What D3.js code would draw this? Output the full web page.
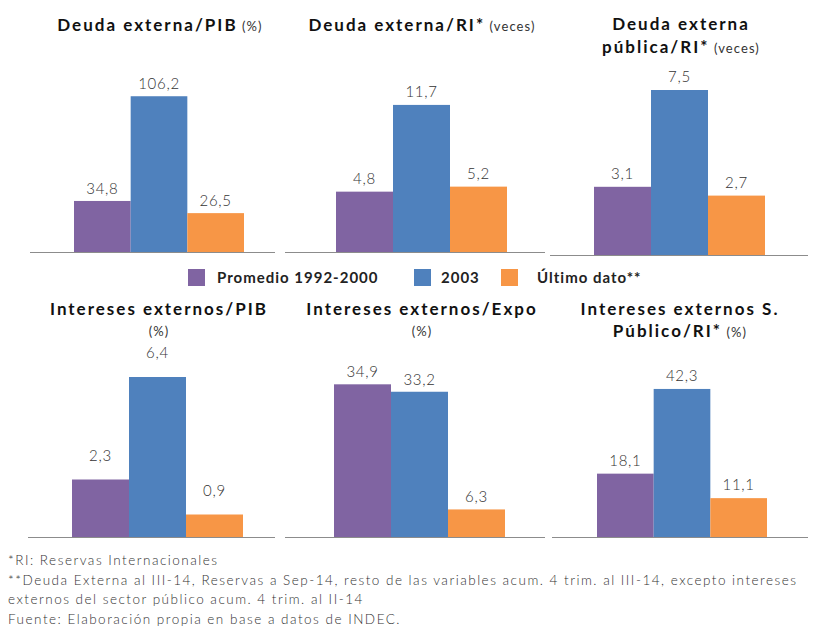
<!DOCTYPE html>
<html>
<head>
<meta charset="utf-8">
<script src="https://cdn.jsdelivr.net/npm/d3@7"></script>
<style>
  html, body { margin: 0; padding: 0; background: #fff; }
  svg { display: block; font-family: Lato, "Open Sans", sans-serif; }
</style>
</head>
<body>
<svg id="chart" width="813" height="632"></svg>
<script>
// Series and categories
const series = ["Promedio 1992-2000", "2003", "Último dato**"];
const seriesColors = ["#8064A2", "#4F81BD", "#F79646"];

// Indicator titles: each line is [bold text, small unit text]
const titles = [
  [["Deuda externa/PIB", " (%)"]],
  [["Deuda externa/RI*", " (veces)"]],
  [["Deuda externa", ""], ["pública/RI*", " (veces)"]],
  [["Intereses externos/PIB", ""], ["", "(%)"]],
  [["Intereses externos/Expo", ""], ["", "(%)"]],
  [["Intereses externos S.", ""], ["Público/RI*", " (%)"]]
];

// Values per indicator: [Promedio 1992-2000, 2003, Último dato]
const deudaPIB = [34.8, 106.2, 26.5];
const deudaRI = [4.8, 11.7, 5.2];
const deudaPublicaRI = [3.1, 7.5, 2.7];
const interesesPIB = [2.3, 6.4, 0.9];
const interesesExpo = [34.9, 33.2, 6.3];
const interesesPublicoRI = [18.1, 42.3, 11.1];
const panelValues = [deudaPIB, deudaRI, deudaPublicaRI, interesesPIB, interesesExpo, interesesPublicoRI];

// Value-axis maxima per indicator
const axisMax = [120, 14, 8, 7, 40, 50];

const footnotes = [
  "*RI: Reservas Internacionales",
  "**Deuda Externa al III-14, Reservas a Sep-14, resto de las variables acum. 4 trim. al III-14, excepto intereses",
  "externos del sector público acum. 4 trim. al II-14",
  "Fuente: Elaboración propia en base a datos de INDEC."
];

// Panel geometry
const layout = [
  { ax0: 30,  ax1: 275, bx0: 74,  bx1: 244, base: 252, h: 176, tx: 160, ty: [31],       gap: 7 },
  { ax0: 285, ax1: 545, bx0: 336, bx1: 507, base: 252, h: 176, tx: 422, ty: [31],       gap: 8 },
  { ax0: 550, ax1: 808, bx0: 594, bx1: 765, base: 255, h: 176, tx: 681, ty: [30, 53],   gap: 8 },
  { ax0: 28,  ax1: 275, bx0: 72,  bx1: 243, base: 537, h: 175, tx: 159, ty: [315, 336], gap: 19 },
  { ax0: 285, ax1: 545, bx0: 334, bx1: 505, base: 537, h: 175, tx: 422, ty: [315, 336], gap: 7 },
  { ax0: 552, ax1: 808, bx0: 597, bx1: 767, base: 537, h: 175, tx: 680, ty: [315, 337], gap: 8 }
];

const svg = d3.select("#chart");

layout.forEach((L, i) => {
  const g = svg.append("g");
  const x = d3.scaleBand().domain(series).range([L.bx0, L.bx1]).padding(0);
  const y = d3.scaleLinear().domain([0, axisMax[i]]).range([L.base, L.base - L.h]);
  const vals = panelValues[i];

  g.selectAll("rect").data(vals).join("rect")
    .attr("x", (d, k) => x(series[k]))
    .attr("width", x.bandwidth())
    .attr("y", d => y(d))
    .attr("height", d => y(0) - y(d))
    .attr("fill", (d, k) => seriesColors[k]);

  // category axis line
  g.append("line")
    .attr("x1", L.ax0).attr("x2", L.ax1)
    .attr("y1", y(0) + 0.5).attr("y2", y(0) + 0.5)
    .attr("stroke", "#8c8c8c").attr("stroke-width", 1);

  // value labels
  g.selectAll("text.val").data(vals).join("text")
    .attr("class", "val")
    .attr("x", (d, k) => x(series[k]) + x.bandwidth() / 2)
    .attr("y", d => y(d) - L.gap)
    .attr("text-anchor", "middle")
    .attr("font-size", 15)
    .attr("font-weight", 300)
    .attr("fill", "#333")
    .attr("letter-spacing", 0.7)
    .text(d => d3.format(".1f")(d).replace(".", ","));

  // title
  titles[i].forEach((line, j) => {
    const t = g.append("text")
      .attr("x", L.tx).attr("y", L.ty[j])
      .attr("text-anchor", "middle")
      .attr("fill", "#111");
    if (line[0]) t.append("tspan").attr("font-weight", 700).attr("font-size", 17)
      .attr("letter-spacing", 2.0).text(line[0]);
    if (line[1]) t.append("tspan").attr("font-size", 13).attr("fill", "#333")
      .attr("letter-spacing", 1.1).text(line[1]);
  });
});

// legend
const legendRect = [188, 414, 501];
const legendText = [217, 441, 537];
const lg = svg.append("g");
series.forEach((s, k) => {
  lg.append("rect").attr("x", legendRect[k]).attr("y", 269).attr("width", 17).attr("height", 17)
    .attr("fill", seriesColors[k]);
  lg.append("text").attr("x", legendText[k]).attr("y", 283)
    .attr("font-size", 15).attr("font-weight", 700).attr("fill", "#222")
    .attr("letter-spacing", 1.0).text(s);
});

// footnotes
svg.append("g").selectAll("text").data(footnotes).join("text")
  .attr("x", 8).attr("y", (d, k) => 565 + k * 19.5)
  .attr("font-size", 13.5).attr("font-weight", 300).attr("fill", "#333").attr("letter-spacing", 1.5)
  .text(d => d);
</script>
</body>
</html>
